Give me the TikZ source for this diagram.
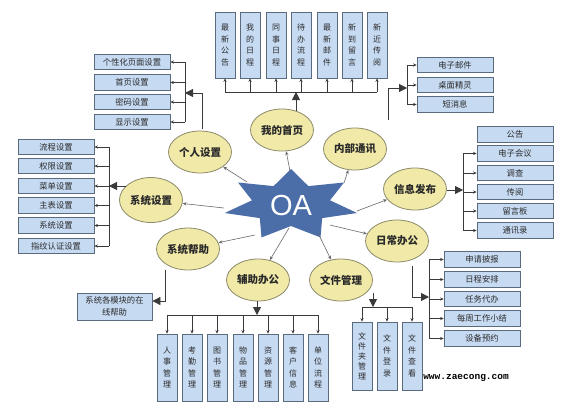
\documentclass[tikz,border=0pt]{standalone}
\usepackage{fontspec}
\setmainfont{Liberation Sans}
\newfontfamily\cjk{Noto Sans CJK SC}
\newfontfamily\wmfont{Liberation Mono}
\usetikzlibrary{arrows.meta,shapes.geometric}
\definecolor{boxfill}{HTML}{C6DAF2}
\definecolor{boxline}{HTML}{5A6B7D}
\definecolor{ovalfill}{HTML}{F0E9A8}
\definecolor{ovalline}{HTML}{8C8A6A}
\definecolor{starblue}{HTML}{4C6EA8}
\definecolor{busline}{HTML}{3A3A3A}
\definecolor{rayline}{HTML}{6A6A6A}
\definecolor{txt}{HTML}{2A2A2A}
\begin{document}
\begin{tikzpicture}[x=1pt,y=-1pt,
  hbox/.style={draw=boxline, fill=boxfill, line width=0.8pt, minimum width=76pt, minimum height=15.5pt, inner sep=0pt, text=txt, font=\cjk\fontsize{8.3}{10}\selectfont},
  vbox/.style={draw=boxline, fill=boxfill, line width=0.8pt, minimum width=20pt, minimum height=67pt, inner sep=0pt, align=center, text=txt, font=\cjk\fontsize{8}{11.5}\selectfont},
  oval/.style={ellipse, draw=ovalline, fill=ovalfill, line width=0.8pt, minimum width=63pt, minimum height=42pt, inner sep=0pt, text=txt, font=\cjk\bfseries\fontsize{10.5}{12}\selectfont},
  bus/.style={draw=busline, line width=0.8pt},
  sm/.style={bus, -{Stealth[length=3.5pt,width=3.2pt]}},
  big/.style={bus, -{Triangle[length=8pt,width=8pt]}},
  ray/.style={draw=rayline, line width=0.6pt, -{Stealth[length=4pt,width=3.2pt]}},
]
\fill[white] (0,0) rectangle (561,405);
\useasboundingbox (0,0) rectangle (561,405);

% ---- star ----
\coordinate (o1) at (291,169);   \coordinate (n1) at (308.4,186.1);
\coordinate (o2) at (344,182.5); \coordinate (n2) at (330,200.3);
\coordinate (o3) at (357,213);   \coordinate (n3) at (322.2,218.1);
\coordinate (o4) at (320.5,237.4); \coordinate (n4) at (291,226);
\coordinate (o5) at (261.5,237.4); \coordinate (n5) at (259.8,218.1);
\coordinate (o6) at (224.7,213); \coordinate (n6) at (252,200.3);
\coordinate (o7) at (238,182.5); \coordinate (n7) at (273.6,186.1);
\fill[starblue] (o1) -- (n1) -- (o2) -- (n2) -- (o3) -- (n3) -- (o4) -- (n4) -- (o5) -- (n5) -- (o6) -- (n6) -- (o7) -- (n7) -- cycle;
\node (oa) at (291,206) {\color{white}\fontsize{29}{29}\selectfont OA};

% ---- ellipses ----
\node[oval] (home) at (282,130) {我的首页};
\node[oval] (comm) at (355,149) {内部通讯};
\node[oval] (info) at (415,189) {信息发布};
\node[oval] (daily) at (397,241) {日常办公};
\node[oval] (file) at (341,280) {文件管理};
\node[oval] (aux) at (258,280) {辅助办公};
\node[oval] (help) at (188,249) {系统帮助};
\node[oval, minimum height=45pt] (sys) at (151,200) {系统设置};
\node[oval] (pers) at (200,152) {个人设置};

% ---- rays from star ----
\coordinate (r1) at (290,171);
\coordinate (r2) at (344,183);
\coordinate (r3) at (357,211);
\coordinate (r4) at (330,225);
\coordinate (r5) at (318,233);
\coordinate (r6) at (289,228);
\coordinate (r7) at (255,235);
\coordinate (r8) at (224,208);
\coordinate (r9) at (247,182);
\draw[ray] (r1) -- (home);
\draw[ray] (r2) -- (comm);
\draw[ray] (r3) -- (info);
\draw[ray] (r4) -- (daily);
\draw[ray] (r5) -- (file);
\draw[ray] (r6) -- (aux);
\draw[ray] (r7) -- (help);
\draw[ray] (r8) -- (sys);
\draw[ray] (r9) -- (pers);

% ---- top boxes (我的首页) ----
\node[vbox, minimum height=66pt] (t1) at (225,45) {最\\新\\公\\告};
\node[vbox, minimum height=66pt] (t2) at (250,45) {我\\的\\日\\程};
\node[vbox, minimum height=66pt] (t3) at (276,45) {同\\事\\日\\程};
\node[vbox, minimum height=66pt] (t4) at (301,45) {待\\办\\流\\程};
\node[vbox, minimum height=66pt] (t5) at (327,45) {最\\新\\邮\\件};
\node[vbox, minimum height=66pt] (t6) at (352,45) {新\\到\\留\\言};
\node[vbox, minimum height=66pt] (t7) at (377,45) {新\\近\\传\\阅};
\coordinate (bT) at (296,92);
\draw[bus] (t1|-bT) -- (t7|-bT);
\foreach \i in {1,...,7} { \draw[sm] (t\i|-bT) -- (t\i.south); }
\coordinate (homeS) at (296,111);
\draw[big] (homeS) -- (bT);

% ---- 内部通讯 ----
\node[hbox] (c1) at (455,65) {电子邮件};
\node[hbox] (c2) at (455,85) {桌面精灵};
\node[hbox] (c3) at (455,104.5) {短消息};
\coordinate (bC) at (407,88);
\draw[bus] (bC|-c1) -- (bC|-c3);
\foreach \i in {1,2,3} { \draw[sm] (bC|-c\i) -- (c\i.west); }
\coordinate (commS) at (388,120);
\draw[big] (commS) |- (bC);

% ---- 信息发布 ----
\node[hbox] (i1) at (515,134.5) {公告};
\node[hbox] (i2) at (515,153.5) {电子会议};
\node[hbox] (i3) at (515,173) {调查};
\node[hbox] (i4) at (515,192) {传阅};
\node[hbox] (i5) at (515,211) {留言板};
\node[hbox] (i6) at (515,230.5) {通讯录};
\coordinate (bI) at (463,190);
\draw[bus] (bI|-i2) -- (bI|-i6);
\foreach \i in {2,...,6} { \draw[sm] (bI|-i\i) -- (i\i.west); }
\draw[big] (info.east|-bI) -- (bI);

% ---- 日常办公 ----
\node[hbox] (d1) at (482,259.5) {申请披报};
\node[hbox] (d2) at (482,279.5) {日程安排};
\node[hbox] (d3) at (482,299) {任务代办};
\node[hbox] (d4) at (482,318.5) {每周工作小结};
\node[hbox] (d5) at (482,338.5) {设备预约};
\coordinate (bD) at (429,297);
\draw[bus] (bD|-d1) -- (bD|-d5);
\foreach \i in {1,...,5} { \draw[sm] (bD|-d\i) -- (d\i.west); }
\coordinate (dailyS) at (412,266);
\draw[big] (dailyS) |- (bD);

% ---- 个人设置 ----
\node[hbox] (p1) at (132,62) {个性化页面设置};
\node[hbox] (p2) at (132,82.5) {首页设置};
\node[hbox] (p3) at (132,102) {密码设置};
\node[hbox] (p4) at (132,122) {显示设置};
\coordinate (bP) at (185,93);
\draw[bus] (bP|-p1) -- (bP|-p4);
\foreach \i in {1,...,4} { \draw[sm] (bP|-p\i) -- (p\i.east); }
\coordinate (persS) at (202,129);
\draw[big] (persS) |- (bP);

% ---- 系统设置 ----
\node[hbox] (y1) at (56,147) {流程设置};
\node[hbox] (y2) at (56,166) {权限设置};
\node[hbox] (y3) at (56,186) {菜单设置};
\node[hbox] (y4) at (56,205.5) {主表设置};
\node[hbox] (y5) at (56,225.5) {系统设置};
\node[hbox] (y6) at (56,246) {指纹认证设置};
\coordinate (bY) at (109,186);
\draw[bus] (bY|-y1) -- (bY|-y6);
\foreach \i in {1,...,6} { \draw[sm] (bY|-y\i) -- (y\i.west-|y\i.east); }
\coordinate (sysS) at (126,186);
\draw[big] (sysS) -- (bY);

% ---- 系统帮助 ----
\node[hbox, minimum width=75pt, minimum height=27pt, align=center, font=\cjk\fontsize{8.3}{12}\selectfont] (h1) at (114.5,306.5) {系统各模块的在\\线帮助};
\coordinate (helpS) at (165,270);
\coordinate (bH) at (165,301);
\draw[big] (helpS) -- (bH) -- (h1.east|-bH);

% ---- 辅助办公 ----
\node[vbox] (a1) at (167,367.5) {人\\事\\管\\理};
\node[vbox] (a2) at (192,367.5) {考\\勤\\管\\理};
\node[vbox] (a3) at (217,367.5) {图\\书\\管\\理};
\node[vbox] (a4) at (243,367.5) {物\\品\\管\\理};
\node[vbox] (a5) at (268,367.5) {资\\源\\管\\理};
\node[vbox] (a6) at (293,367.5) {客\\户\\信\\息};
\node[vbox] (a7) at (318,367.5) {单\\位\\流\\程};
\coordinate (bA) at (257,315);
\draw[bus] (a1|-bA) -- (a7|-bA);
\foreach \i in {1,...,7} { \draw[sm] (a\i|-bA) -- (a\i.north); }
\coordinate (auxS) at (257,301);
\draw[big] (auxS) -- (bA);

% ---- 文件管理 ----
\node[vbox, minimum height=68pt, font=\cjk\fontsize{8}{10}\selectfont] (f1) at (362,356) {文\\件\\夹\\管\\理};
\node[vbox, minimum height=68pt] (f2) at (387,356) {文\\件\\登\\录};
\node[vbox, minimum height=68pt] (f3) at (412,356) {文\\件\\查\\看};
\coordinate (bF) at (373,307);
\draw[bus] (f1|-bF) -- (f3|-bF);
\foreach \i in {1,2,3} { \draw[sm] (f\i|-bF) -- (f\i.north); }
\coordinate (fileS) at (373,293);
\draw[big] (fileS) -- (bF);

% ---- watermark ----
\node[font=\wmfont\bfseries\fontsize{9.5}{10}\selectfont, inner sep=0pt] (wm) at (466,378) {www.zaecong.com};
\end{tikzpicture}
\end{document}
